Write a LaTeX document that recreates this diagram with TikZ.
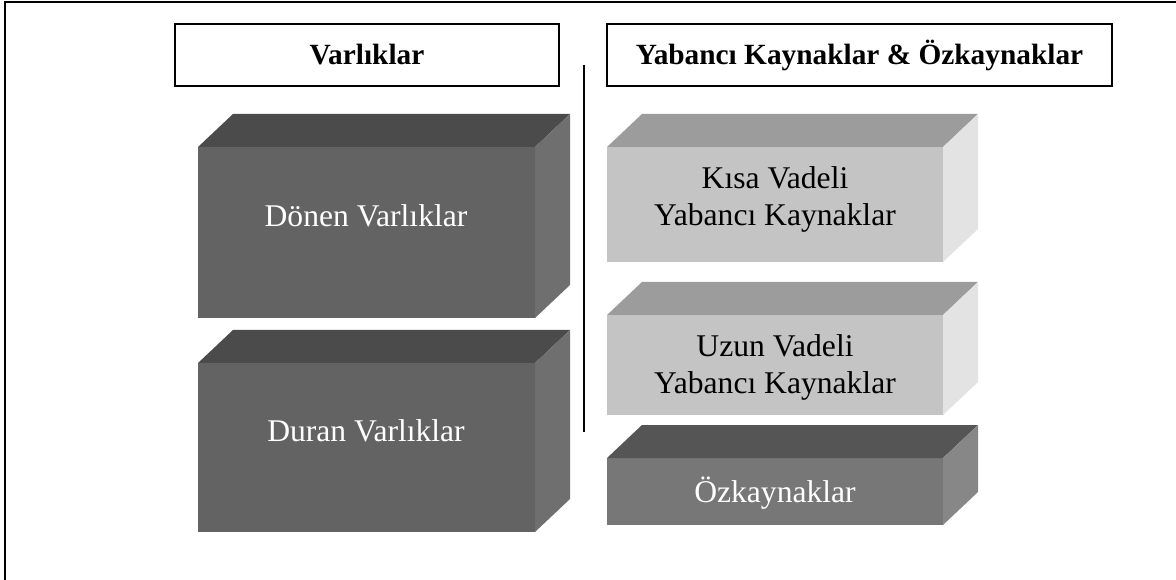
\documentclass[tikz,border=0pt]{standalone}
\usepackage{fontspec}
\setmainfont{Liberation Serif}
\usetikzlibrary{calc}

\begin{document}
\begin{tikzpicture}[x=0.75pt,y=-0.75pt,
    front/.style={shape=rectangle,inner sep=0pt,outer sep=0pt},
    boxtext/.style={font=\fontsize{23.7}{27.8}\selectfont,align=center,inner sep=0pt},
    headbox/.style={shape=rectangle,draw,line width=1.5pt,inner sep=0pt,minimum height=46.5pt,font=\fontsize{22}{26}\selectfont\bfseries}]
    \definecolor{bsheet_darkfront}{RGB}{99,99,99}
    \definecolor{bsheet_darktop}{RGB}{75,75,75}
    \definecolor{bsheet_darkside}{RGB}{111,111,111}
    \definecolor{bsheet_lightfront}{RGB}{196,196,196}
    \definecolor{bsheet_lighttop}{RGB}{156,156,156}
    \definecolor{bsheet_lightside}{RGB}{227,227,227}
    \definecolor{bsheet_midfront}{RGB}{119,119,119}
    \definecolor{bsheet_midtop}{RGB}{85,85,85}
    \definecolor{bsheet_midside}{RGB}{135,135,135}
    \useasboundingbox (0,0) rectangle (1176,580);
    \clip (0,0) rectangle (1176,580);
    % outer frame, cut by the page on the right and at the bottom
    \draw[line width=1.6pt] (5,2) rectangle (1190,600);
    % headings
    \node[headbox,minimum width=288pt] (varhead) at (367,55) {Varlıklar};
    \node[headbox,minimum width=378.75pt] (kayhead) at (859.5,55) {Yabancı Kaynaklar \& Özkaynaklar};
    \coordinate (septop) at (584,65);
    \coordinate (sepbot) at (584,432);
    \draw[line width=1.5pt] (septop) -- (sepbot);
    % front faces
    \node[front,fill=bsheet_darkfront,minimum width=252.75pt,minimum height=128.25pt] (donen) at (366.5,232.5) {};
    \node[front,fill=bsheet_darkfront,minimum width=252.75pt,minimum height=126.75pt] (duran) at (366.5,447.5) {};
    \node[front,fill=bsheet_lightfront,minimum width=252pt,minimum height=86.25pt] (kisa) at (775,204.5) {};
    \node[front,fill=bsheet_lightfront,minimum width=252pt,minimum height=75pt] (uzun) at (775,365) {};
    \node[front,fill=bsheet_midfront,minimum width=252pt,minimum height=50.25pt] (ozk) at (775,491.5) {};
    % top and side faces
    \foreach \b/\c in {donen/dark,duran/dark,kisa/light,uzun/light,ozk/mid}{
      \fill[bsheet_\c top] (\b.north west) -- ++(35,-33) -- ($(\b.north east)+(35,-33)$) -- (\b.north east) -- cycle;
      \fill[bsheet_\c side] (\b.north east) -- ++(35,-33) -- ($(\b.south east)+(35,-33)$) -- (\b.south east) -- cycle;
    }
    % labels
    \node[boxtext,text=white,anchor=base] (donent) at (366,227) {Dönen Varlıklar};
    \node[boxtext,text=white,anchor=base] (durant) at (366,441) {Duran Varlıklar};
    \node[boxtext] (kisat) at (775,199) {Kısa Vadeli\\Yabancı Kaynaklar};
    \node[boxtext] (uzunt) at (775,367) {Uzun Vadeli\\Yabancı Kaynaklar};
    \node[boxtext,text=white,anchor=base] (ozkt) at (775,502) {Özkaynaklar};
\end{tikzpicture}
\end{document}
